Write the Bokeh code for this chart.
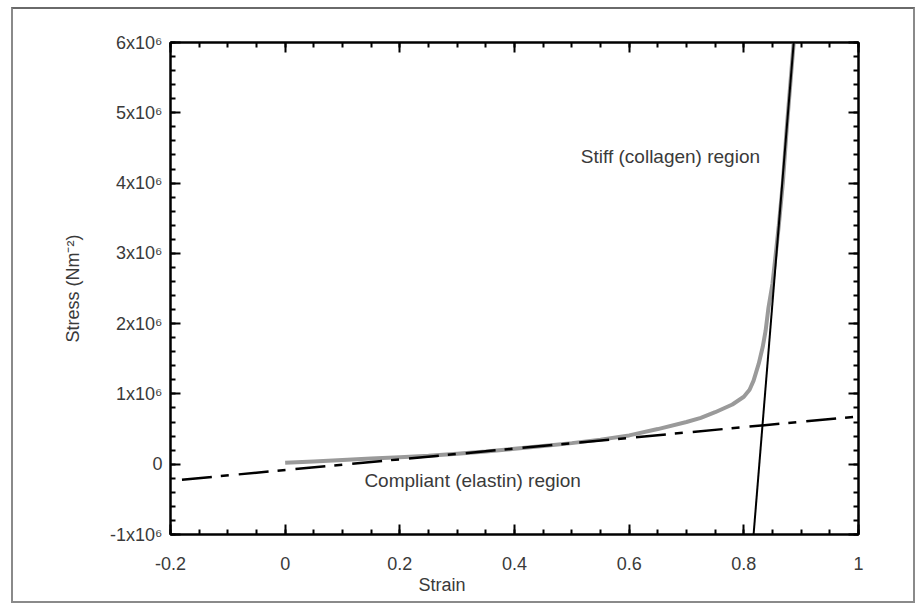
from bokeh.plotting import figure
from bokeh.models import (Range1d, SingleIntervalTicker, LinearAxis, Label,
                          CustomJSTickFormatter, Title, InlineStyleSheet)
from bokeh.embed import file_html
from bokeh.resources import INLINE

# ---- data ----
strain = [0.0, 0.05, 0.1, 0.15, 0.2, 0.25, 0.3, 0.35, 0.4, 0.45, 0.5, 0.55,
          0.6, 0.65, 0.7, 0.725, 0.75, 0.78, 0.80, 0.81, 0.817, 0.826, 0.833,
          0.838, 0.843, 0.850, 0.855, 0.861, 0.868, 0.875, 0.882, 0.887]
stress = [0.02e6, 0.04e6, 0.06e6, 0.08e6, 0.10e6, 0.12e6, 0.15e6, 0.18e6,
          0.22e6, 0.26e6, 0.30e6, 0.35e6, 0.41e6, 0.50e6, 0.60e6, 0.66e6,
          0.74e6, 0.85e6, 0.96e6, 1.06e6, 1.19e6, 1.43e6, 1.67e6, 1.90e6,
          2.23e6, 2.57e6, 2.94e6, 3.40e6, 4.0e6, 4.8e6, 5.5e6, 6.0e6]

elastin_x = [-0.18, 1.0]
elastin_y = [-0.22e6, 0.68e6]

collagen_x = [0.817, 0.887]
collagen_y = [-1.0e6, 6.0e6]

y_tick_labels = {-1000000: "-1x10\u2076", 0: "0", 1000000: "1x10\u2076",
                 2000000: "2x10\u2076", 3000000: "3x10\u2076",
                 4000000: "4x10\u2076", 5000000: "5x10\u2076",
                 6000000: "6x10\u2076"}
x_tick_labels = {-0.2: "-0.2", 0: "0", 0.2: "0.2", 0.4: "0.4",
                 0.6: "0.6", 0.8: "0.8", 1: "1"}

FONT = "Liberation Sans"
TXT = "#3a3a3a"

W, H = 917, 605

border_css = InlineStyleSheet(css="""
:host { position: relative; }
:host::after {
  content: "";
  position: absolute;
  left: 11px; top: 7px; right: 2px; bottom: 2px;
  border: 2px solid #8a8a8a;
  border-top-color: #6a6a6a;
  pointer-events: none;
  z-index: 1000;
}
""")

p = figure(width=W, height=H, output_backend="svg", toolbar_location=None,
           x_range=Range1d(-0.2, 1.0), y_range=Range1d(-1.0e6, 6.0e6),
           min_border_left=170, min_border_right=W - 858, min_border_top=42,
           min_border_bottom=H - 534, x_axis_location=None,
           y_axis_location=None, stylesheets=[border_css])
p.xgrid.visible = False
p.ygrid.visible = False
p.outline_line_color = "black"
p.outline_line_width = 2
p.background_fill_color = "white"
p.border_fill_color = "white"


def style_axis(ax, labels=True):
    ax.axis_line_color = "black"
    ax.axis_line_width = 2
    ax.major_tick_in = 10
    ax.major_tick_out = 0
    ax.minor_tick_in = 5
    ax.minor_tick_out = 0
    ax.major_tick_line_width = 2
    ax.minor_tick_line_width = 2
    ax.major_tick_line_color = "black"
    ax.minor_tick_line_color = "black"
    ax.major_label_text_font = FONT
    ax.major_label_text_font_size = "18px"
    ax.major_label_text_color = TXT
    if not labels:
        ax.formatter = CustomJSTickFormatter(code="return ''")


xb = LinearAxis(ticker=SingleIntervalTicker(interval=0.2, num_minor_ticks=4))
style_axis(xb)
xb.major_label_standoff = 22
xb.major_label_overrides = x_tick_labels
p.add_layout(xb, "below")

xt = LinearAxis(ticker=SingleIntervalTicker(interval=0.2, num_minor_ticks=4))
style_axis(xt, labels=False)
p.add_layout(xt, "above")

yl = LinearAxis(ticker=SingleIntervalTicker(interval=1e6, num_minor_ticks=5))
style_axis(yl)
yl.major_label_standoff = 8
yl.major_label_overrides = y_tick_labels
yl.axis_label = "Stress (Nm\u207b\u00b2)"
yl.axis_label_text_font = FONT
yl.axis_label_text_font_size = "18px"
yl.axis_label_text_font_style = "normal"
yl.axis_label_text_color = TXT
yl.axis_label_standoff = 24
p.add_layout(yl, "left")

yr = LinearAxis(ticker=SingleIntervalTicker(interval=1e6, num_minor_ticks=5))
style_axis(yr, labels=False)
p.add_layout(yr, "right")

# x axis title, shifted left as in the reference
p.add_layout(Title(text="Strain", align="left", offset=248,
                   text_font=FONT, text_font_size="18px",
                   text_font_style="normal", text_color=TXT,
                   standoff=0), "below")

# ---- glyphs ----
p.line(strain, stress, line_color="#9a9a9a", line_width=4)
p.line(elastin_x, elastin_y, line_color="black", line_width=2.5,
       line_dash="30 9 8 10")
p.line(collagen_x, collagen_y, line_color="black", line_width=2)

# ---- annotations ----
p.add_layout(Label(x=0.672, y=4.38e6, text="Stiff (collagen) region",
                   text_font=FONT, text_font_size="19px", text_color=TXT,
                   text_align="center", text_baseline="middle"))
p.add_layout(Label(x=0.327, y=-0.23e6, text="Compliant (elastin) region",
                   text_font=FONT, text_font_size="19px", text_color=TXT,
                   text_align="center", text_baseline="middle"))

open("out.html", "w").write(file_html(p, INLINE))
